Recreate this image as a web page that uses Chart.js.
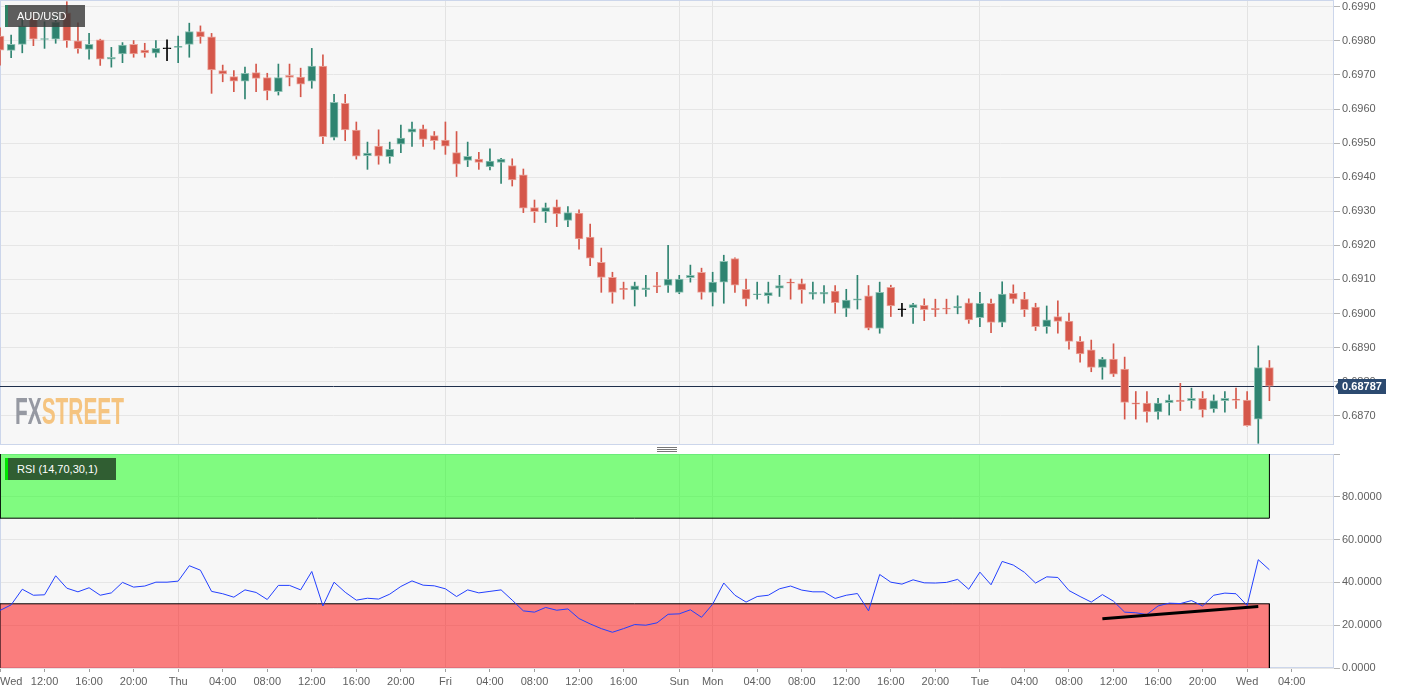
<!DOCTYPE html>
<html>
<head>
<meta charset="utf-8">
<script src="https://cdn.jsdelivr.net/npm/chart.js@4.4.0/dist/chart.umd.min.js"></script>
<style>
  body { margin: 0; background: #fff; }
  #wrap { position: relative; width: 1405px; height: 695px; font-family: "Liberation Sans", Arial, sans-serif; }
  canvas { position: absolute; left: 0; }
  #priceChart { top: 0; }
  #rsiChart { top: 446px; }
  .tag { position: absolute; left: 5px; height: 22px; line-height: 22px; color: #fff; font-size: 11px; padding-left: 9px; box-sizing: border-box; }
  #pairTag { top: 5px; width: 80px; background: rgba(58,58,58,0.82); border-left: 3px solid #2e8264; }
  #rsiTag { top: 458px; width: 111px; background: #305e32; border-left: 3px solid #00e600; }
  #handle { position: absolute; left: 657px; top: 447px; width: 20px; height: 3px; border-top: 1px solid #777; border-bottom: 1px solid #777; }
  #handle:after { content: ''; position: absolute; left: 0; right: 0; top: 1px; border-top: 1px solid #777; }
</style>
</head>
<body>
<div id="wrap">
  <canvas id="priceChart" width="1405" height="446"></canvas>
  <canvas id="rsiChart" width="1405" height="249"></canvas>
  <div class="tag" id="pairTag">AUD/USD</div>
  <div class="tag" id="rsiTag">RSI (14,70,30,1)</div>
  <div id="handle"></div>
</div>
<script>
// hourly AUD/USD candles, Wed 08:00 -> next Wed 02:00 (weekend skipped)
const opens = [0.69814, 0.69772, 0.69790, 0.69867, 0.69804, 0.69805, 0.69882, 0.69800, 0.69775, 0.69803,
  0.69746, 0.69762, 0.69790, 0.69773, 0.69764, 0.69777, 0.69781, 0.69790, 0.69827, 0.69812,
  0.69713, 0.69695, 0.69682, 0.69707, 0.69692, 0.69651, 0.69699, 0.69694, 0.69682, 0.69726,
  0.69517, 0.69617, 0.69538, 0.69463, 0.69491, 0.69460, 0.69497, 0.69532, 0.69542, 0.69522,
  0.69509, 0.69472, 0.69449, 0.69453, 0.69431, 0.69443, 0.69434, 0.69407, 0.69311, 0.69299,
  0.69313, 0.69273, 0.69295, 0.69224, 0.69150, 0.69106, 0.69074, 0.69069, 0.69070, 0.69082,
  0.69082, 0.69062, 0.69105, 0.69121, 0.69062, 0.69092, 0.69161, 0.69071, 0.69055, 0.69052,
  0.69074, 0.69092, 0.69088, 0.69057, 0.69057, 0.69066, 0.69015, 0.69039, 0.69052, 0.68956,
  0.69077, 0.69011, 0.69017, 0.69024, 0.69015, 0.69016, 0.69016, 0.69031, 0.68988, 0.69030,
  0.68974, 0.69059, 0.69042, 0.69019, 0.68961, 0.68991, 0.68978, 0.68918, 0.68893, 0.68842,
  0.68866, 0.68837, 0.68738, 0.68737, 0.68711, 0.68738, 0.68746, 0.68744, 0.68751, 0.68720,
  0.68744, 0.68749, 0.68746, 0.68690, 0.68841];
const highs = [0.69838, 0.69817, 0.69861, 0.69885, 0.69856, 0.69876, 0.69915, 0.69853, 0.69822, 0.69805,
  0.69781, 0.69795, 0.69801, 0.69793, 0.69801, 0.69803, 0.69814, 0.69852, 0.69844, 0.69822,
  0.69729, 0.69713, 0.69723, 0.69732, 0.69705, 0.69732, 0.69732, 0.69720, 0.69778, 0.69759,
  0.69643, 0.69643, 0.69562, 0.69503, 0.69539, 0.69503, 0.69553, 0.69562, 0.69553, 0.69534,
  0.69562, 0.69534, 0.69503, 0.69473, 0.69483, 0.69455, 0.69454, 0.69424, 0.69333, 0.69324,
  0.69333, 0.69314, 0.69304, 0.69262, 0.69192, 0.69121, 0.69092, 0.69092, 0.69112, 0.69121,
  0.69200, 0.69112, 0.69142, 0.69133, 0.69121, 0.69171, 0.69163, 0.69101, 0.69092, 0.69092,
  0.69112, 0.69101, 0.69101, 0.69092, 0.69082, 0.69082, 0.69071, 0.69112, 0.69082, 0.69092,
  0.69083, 0.69030, 0.69030, 0.69043, 0.69042, 0.69042, 0.69052, 0.69043, 0.69062, 0.69042,
  0.69093, 0.69084, 0.69062, 0.69030, 0.69022, 0.69037, 0.69001, 0.68932, 0.68922, 0.68871,
  0.68911, 0.68872, 0.68771, 0.68771, 0.68751, 0.68761, 0.68795, 0.68781, 0.68771, 0.68761,
  0.68771, 0.68781, 0.68771, 0.68905, 0.68862];
const lows = [0.69729, 0.69751, 0.69765, 0.69786, 0.69778, 0.69793, 0.69781, 0.69764, 0.69746, 0.69728,
  0.69723, 0.69736, 0.69752, 0.69752, 0.69752, 0.69742, 0.69736, 0.69752, 0.69793, 0.69646,
  0.69680, 0.69651, 0.69630, 0.69651, 0.69627, 0.69641, 0.69668, 0.69636, 0.69661, 0.69498,
  0.69509, 0.69507, 0.69453, 0.69423, 0.69438, 0.69441, 0.69472, 0.69490, 0.69490, 0.69482,
  0.69467, 0.69402, 0.69431, 0.69423, 0.69421, 0.69382, 0.69374, 0.69296, 0.69267, 0.69267,
  0.69255, 0.69255, 0.69189, 0.69140, 0.69062, 0.69030, 0.69042, 0.69022, 0.69050, 0.69061,
  0.69062, 0.69058, 0.69092, 0.69042, 0.69022, 0.69030, 0.69062, 0.69022, 0.69042, 0.69030,
  0.69050, 0.69042, 0.69030, 0.69042, 0.69030, 0.69001, 0.68991, 0.69013, 0.68952, 0.68942,
  0.68991, 0.68991, 0.68971, 0.68979, 0.68991, 0.68999, 0.68999, 0.68971, 0.68961, 0.68944,
  0.68961, 0.69030, 0.68991, 0.68950, 0.68942, 0.68942, 0.68895, 0.68857, 0.68829, 0.68807,
  0.68815, 0.68690, 0.68690, 0.68681, 0.68690, 0.68702, 0.68715, 0.68722, 0.68696, 0.68710,
  0.68710, 0.68721, 0.68669, 0.68619, 0.68744];
const closes = [0.69773, 0.69790, 0.69844, 0.69805, 0.69806, 0.69855, 0.69801, 0.69777, 0.69790, 0.69746,
  0.69752, 0.69788, 0.69762, 0.69765, 0.69778, 0.69777, 0.69782, 0.69827, 0.69812, 0.69715,
  0.69703, 0.69682, 0.69705, 0.69690, 0.69653, 0.69692, 0.69693, 0.69673, 0.69726, 0.69519,
  0.69620, 0.69539, 0.69462, 0.69471, 0.69462, 0.69482, 0.69515, 0.69542, 0.69511, 0.69507,
  0.69491, 0.69438, 0.69461, 0.69443, 0.69447, 0.69453, 0.69392, 0.69309, 0.69299, 0.69311,
  0.69292, 0.69296, 0.69219, 0.69162, 0.69106, 0.69062, 0.69070, 0.69081, 0.69075, 0.69078,
  0.69101, 0.69101, 0.69112, 0.69062, 0.69092, 0.69153, 0.69083, 0.69042, 0.69057, 0.69061,
  0.69082, 0.69089, 0.69069, 0.69062, 0.69062, 0.69032, 0.69039, 0.69043, 0.68957, 0.69062,
  0.69022, 0.69011, 0.69026, 0.69011, 0.69011, 0.69013, 0.69021, 0.68981, 0.69030, 0.68974,
  0.69057, 0.69042, 0.69011, 0.68961, 0.68981, 0.68977, 0.68918, 0.68881, 0.68842, 0.68866,
  0.68822, 0.68739, 0.68734, 0.68711, 0.68737, 0.68746, 0.68741, 0.68751, 0.68717, 0.68744,
  0.68751, 0.68745, 0.68671, 0.68841, 0.68787];

// RSI(14) per candle
const rsi = [26.9, 29.5, 36.8, 34.0, 34.2, 43.1, 37.3, 35.6, 37.5, 34.0,
  35.1, 40.0, 37.8, 38.3, 40.1, 40.1, 40.6, 47.8, 45.7, 35.8,
  34.7, 33.1, 36.5, 35.3, 32.0, 38.6, 38.6, 36.5, 45.1, 29.0,
  40.1, 35.4, 31.7, 32.6, 32.2, 34.5, 38.1, 40.7, 38.7, 38.4,
  37.0, 33.4, 36.5, 35.1, 35.8, 36.5, 31.7, 26.7, 26.1, 28.3,
  27.0, 27.6, 23.1, 20.6, 18.4, 16.7, 18.4, 20.3, 20.0, 21.1,
  25.1, 25.3, 27.2, 23.7, 29.8, 39.7, 34.0, 30.8, 33.4, 34.0,
  37.0, 38.3, 36.4, 35.6, 35.6, 32.5, 34.0, 34.8, 26.7, 43.7,
  40.1, 39.2, 41.2, 39.8, 39.7, 40.0, 41.4, 36.8, 44.8, 38.9,
  49.8, 48.1, 44.7, 39.7, 42.6, 42.3, 36.2, 33.4, 30.8, 34.3,
  31.2, 26.1, 25.8, 25.0, 29.0, 30.3, 30.1, 31.5, 29.0, 34.0,
  35.0, 34.7, 29.2, 50.6, 45.9];

const overbought = [70, 100];
const oversold = [0, 30];
// hand drawn support line on the RSI
const trendX = [99, 113];
const trendY = [23.0, 28.7];

// time axis labels (candle index -> text)
const tickIdx = [0, 4, 8, 12, 16, 20, 24, 28, 32, 36, 40, 44, 48, 52, 56, 61, 64, 68, 72, 76, 80, 84, 88, 92, 96, 100, 104, 108, 112, 116];
const tickText = ['Wed', '12:00', '16:00', '20:00', 'Thu', '04:00', '08:00', '12:00', '16:00', '20:00', 'Fri', '04:00', '08:00', '12:00', '16:00',
  'Sun', 'Mon', '04:00', '08:00', '12:00', '16:00', '20:00', 'Tue', '04:00', '08:00', '12:00', '16:00', '20:00', 'Wed', '04:00'];
const dayNames = ['Mon', 'Tue', 'Wed', 'Thu', 'Fri', 'Sun'];

const xMax = 119.8;
const lastIdx = closes.length - 1;
const lastPrice = closes[lastIdx];

Chart.defaults.font.family = '"Liberation Sans", Arial, sans-serif';
Chart.defaults.font.size = 11;
Chart.defaults.color = '#606060';

const candleColor = closes.map((c, i) => c > opens[i] ? '#2f8471' : (c < opens[i] ? '#d5574a' : '#000000'));
const edgeColor = closes.map((c, i) => c > opens[i] ? '#8fc2b4' : (c < opens[i] ? '#eba79e' : '#000000'));

const wicks = highs.map((h, i) => ({ x: i, y: [lows[i], h] }));
const bodies = opens.map((o, i) => ({ x: i, y: [o, closes[i]] }));

function setTicks(scale) {
    scale.ticks = tickIdx.concat([xMax]).map(v => ({ value: v }));
}
function dayGrid(ctx) {
    const t = tickText[ctx.index];
    return (ctx.index > 0 && dayNames.includes(t)) ? '#e3e3e3' : 'rgba(0,0,0,0)';
}
function noPad(s) {
    s.paddingLeft = 0;
    s.paddingRight = 0;
    s.paddingTop = 0;
    s.paddingBottom = 0;
}

// plot background and frame
const framePlugin = {
    id: 'frame',
    beforeDraw(chart) {
        const a = chart.chartArea, ctx = chart.ctx;
        ctx.save();
        ctx.fillStyle = '#f7f7f7';
        ctx.fillRect(a.left, a.top, a.right - a.left, a.bottom - a.top);
        ctx.restore();
    },
    beforeDatasetsDraw(chart) {
        const a = chart.chartArea, ctx = chart.ctx;
        ctx.save();
        ctx.strokeStyle = '#ccd6eb';
        ctx.lineWidth = 1;
        ctx.strokeRect(a.left + 0.5, a.top + 0.5, a.right - a.left - 1, a.bottom - a.top - 1);
        ctx.restore();
    }
};

const watermark = {
    id: 'watermark',
    beforeDatasetsDraw(chart) {
        const ctx = chart.ctx;
        ctx.save();
        ctx.font = 'bold 36px "Liberation Sans", Arial, sans-serif';
        const wFx = ctx.measureText('FX').width;
        const wSt = ctx.measureText('STREET').width;
        ctx.translate(15, 424);
        ctx.scale(109 / (wFx + wSt), 1);
        ctx.textBaseline = 'alphabetic';
        ctx.fillStyle = 'rgba(133,136,147,0.85)';
        ctx.fillText('FX', 0, 0);
        ctx.fillStyle = 'rgba(245,187,107,0.85)';
        ctx.fillText('STREET', wFx, 0);
        ctx.restore();
    }
};

// last price line across the pane + tag on the right axis
const priceTag = {
    id: 'priceTag',
    beforeDatasetsDraw(chart) {
        const ctx = chart.ctx, a = chart.chartArea;
        const y = Math.round(chart.scales.y.getPixelForValue(lastPrice)) + 0.5;
        ctx.save();
        ctx.strokeStyle = '#1f2f4c';
        ctx.lineWidth = 1;
        ctx.beginPath();
        ctx.moveTo(chart.scales.x.getPixelForValue(0), y);
        ctx.lineTo(a.right, y);
        ctx.stroke();
        ctx.restore();
    },
    afterDraw(chart) {
        const ctx = chart.ctx;
        const y = Math.round(chart.scales.y.getPixelForValue(lastPrice)) + 0.5;
        const x0 = chart.chartArea.right;
        ctx.save();
        ctx.fillStyle = '#2c4a70';
        ctx.beginPath();
        ctx.moveTo(x0 + 1, y);
        ctx.lineTo(x0 + 4, y - 4);
        ctx.lineTo(x0 + 4, y - 7.5);
        ctx.lineTo(x0 + 52, y - 7.5);
        ctx.lineTo(x0 + 52, y + 7.5);
        ctx.lineTo(x0 + 4, y + 7.5);
        ctx.lineTo(x0 + 4, y + 4);
        ctx.closePath();
        ctx.fill();
        ctx.fillStyle = '#ffffff';
        ctx.font = 'bold 11px "Liberation Sans", Arial, sans-serif';
        ctx.textAlign = 'center';
        ctx.textBaseline = 'middle';
        ctx.fillText(lastPrice.toFixed(5), x0 + 28, y + 0.5);
        ctx.restore();
    }
};

new Chart(document.getElementById('priceChart'), {
    type: 'bar',
    data: {
        datasets: [{
            data: wicks,
            backgroundColor: candleColor,
            barThickness: 1,
            grouped: false,
            order: 2
        }, {
            data: bodies,
            backgroundColor: candleColor,
            borderColor: edgeColor,
            borderWidth: 1,
            borderSkipped: false,
            barThickness: 8,
            minBarLength: 1,
            grouped: false,
            order: 1
        }]
    },
    options: {
        responsive: false,
        animation: false,
        events: [],
        layout: { padding: 0 },
        plugins: { legend: { display: false }, tooltip: { enabled: false } },
        scales: {
            x: {
                type: 'linear', min: 0, max: xMax, offset: false,
                afterBuildTicks: setTicks,
                afterFit: s => { s.height = 1; noPad(s); },
                ticks: { display: false },
                grid: { color: dayGrid, drawTicks: false, offset: false },
                border: { display: false }
            },
            y: {
                position: 'right', min: 0.68614, max: 0.69920,
                afterFit: s => { s.width = 71; noPad(s); },
                ticks: { stepSize: 0.001, includeBounds: false, padding: 2, callback: v => v.toFixed(4) },
                grid: { color: '#e6e6e6', tickColor: '#b5b5b5', tickLength: 6 },
                border: { display: false }
            }
        }
    },
    plugins: [framePlugin, watermark, priceTag]
});

new Chart(document.getElementById('rsiChart'), {
    type: 'line',
    data: {
        datasets: [{
            data: rsi.map((v, i) => ({ x: i, y: v })),
            borderColor: '#2340ff',
            borderWidth: 1,
            pointRadius: 0,
            order: 1
        }, {
            data: [{ x: trendX[0], y: trendY[0] }, { x: trendX[1], y: trendY[1] }],
            borderColor: '#000000',
            borderWidth: 3,
            pointRadius: 0,
            order: 0
        }, {
            data: [{ x: 0, y: overbought[1] }, { x: 0, y: overbought[0] }, { x: lastIdx, y: overbought[0] }, { x: lastIdx, y: overbought[1] }],
            fill: 'shape',
            backgroundColor: 'rgba(10,255,10,0.5)',
            borderColor: '#000000',
            borderWidth: 1,
            pointRadius: 0,
            order: 5
        }, {
            data: [{ x: 0, y: oversold[0] }, { x: 0, y: oversold[1] }, { x: lastIdx, y: oversold[1] }, { x: lastIdx, y: oversold[0] }],
            fill: 'shape',
            backgroundColor: 'rgba(253,3,3,0.5)',
            borderColor: '#000000',
            borderWidth: 1,
            pointRadius: 0,
            order: 5
        }]
    },
    options: {
        responsive: false,
        animation: false,
        events: [],
        layout: { padding: { top: 8 } },
        plugins: { legend: { display: false }, tooltip: { enabled: false } },
        scales: {
            x: {
                type: 'linear', min: 0, max: xMax, offset: false,
                afterBuildTicks: setTicks,
                afterFit: s => { s.height = 27; noPad(s); },
                ticks: { align: 'inner', autoSkip: false, maxRotation: 0, padding: 3, callback: (v, i) => tickText[i] || '' },
                grid: {
                    color: dayGrid, tickLength: 4, offset: false,
                    tickColor: ctx => ctx.index < tickIdx.length ? '#a0a0a0' : 'rgba(0,0,0,0)'
                },
                border: { display: false }
            },
            y: {
                position: 'right', min: 0, max: 100,
                afterFit: s => { s.width = 71; noPad(s); },
                ticks: { stepSize: 20, padding: 2, callback: v => v === 100 ? '' : v.toFixed(4) },
                grid: { color: '#e6e6e6', tickColor: '#b5b5b5', tickLength: 6 },
                border: { display: false }
            }
        }
    },
    plugins: [framePlugin]
});
</script>
</body>
</html>
